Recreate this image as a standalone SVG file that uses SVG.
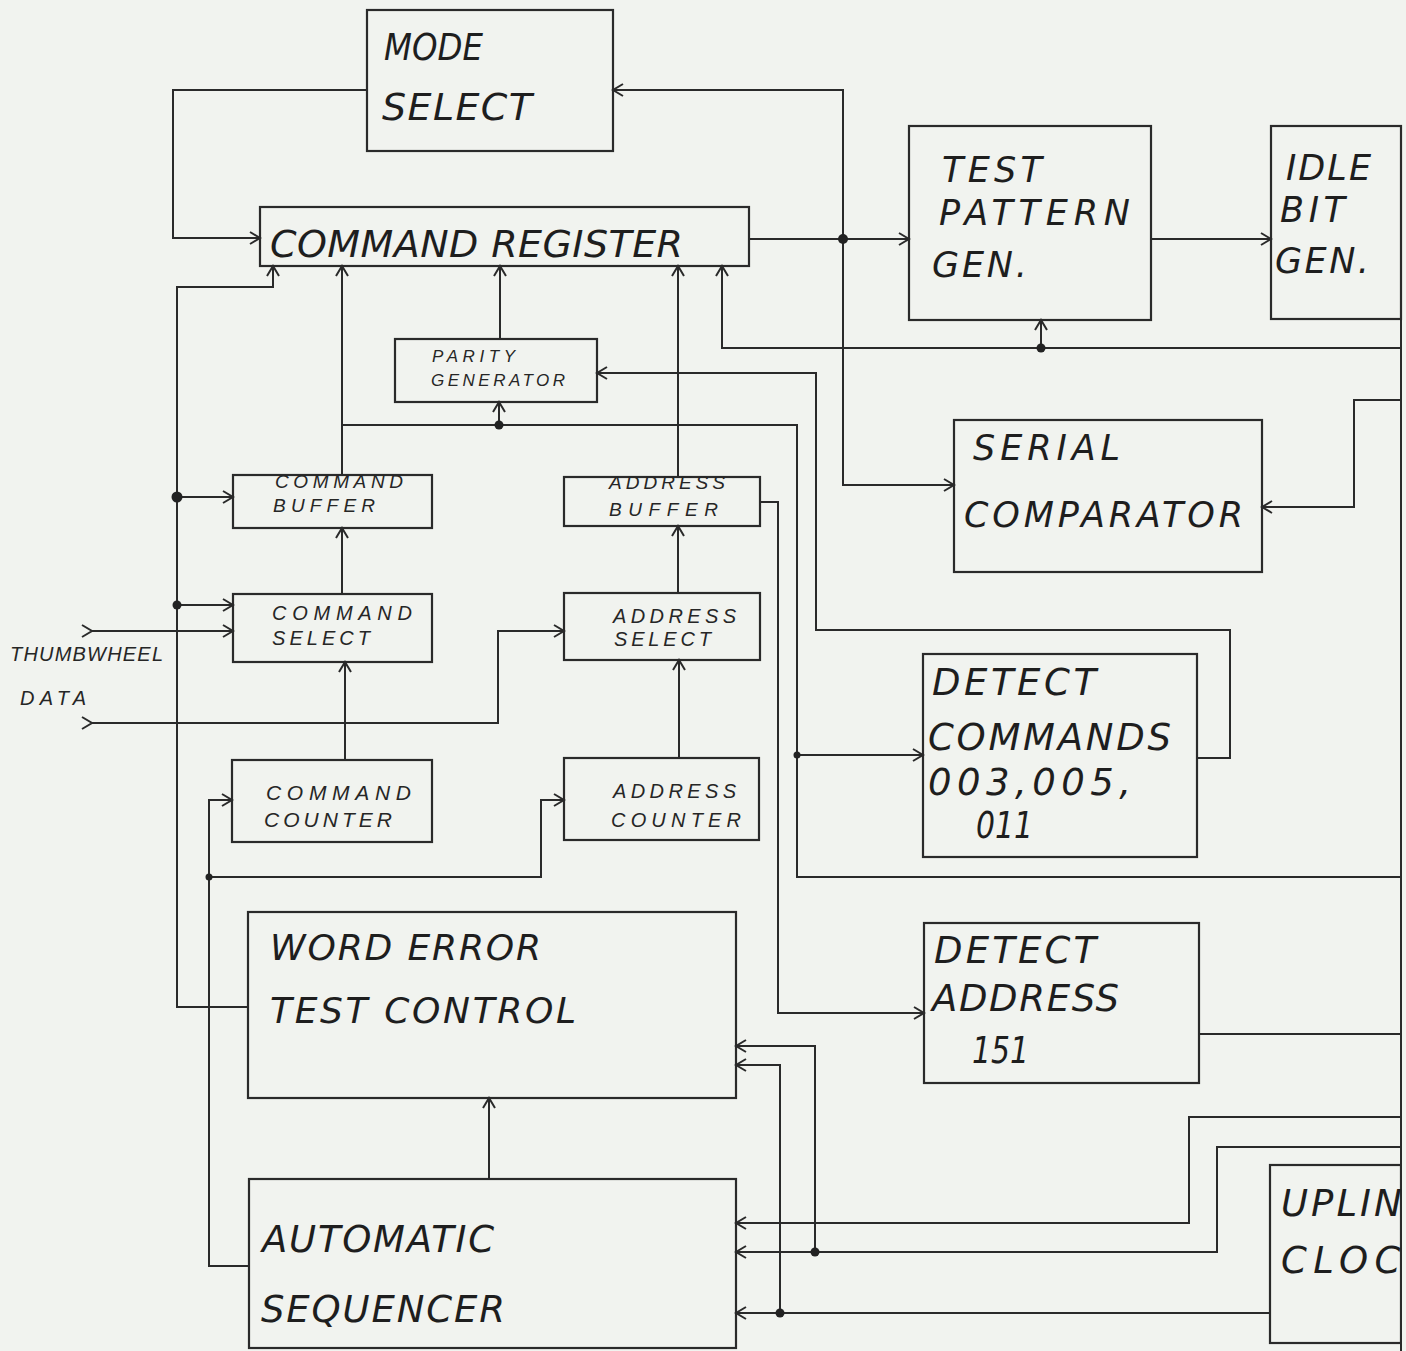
<svg xmlns="http://www.w3.org/2000/svg" width="1406" height="1351" viewBox="0 0 1406 1351">
<style>
.bg{fill:#f1f3ef}
.box{fill:none;stroke:#2a2a2a;stroke-width:2.2}
.ln{fill:none;stroke:#2a2a2a;stroke-width:2}
.dot{fill:#222}
.big{font-family:"DejaVu Sans ExtraLight","DejaVu Sans","Liberation Sans",sans-serif;font-weight:200;font-style:italic;fill:#1e1e1e}
.sm{font-family:"Liberation Sans","DejaVu Sans",sans-serif;font-style:italic;fill:#262626}
</style>
<defs>
<marker id="ar" markerUnits="userSpaceOnUse" markerWidth="16" markerHeight="16" refX="11" refY="7" orient="auto">
<path d="M1,1 L11,7 L1,13" fill="none" stroke="#2a2a2a" stroke-width="2"/>
</marker>
<clipPath id="page"><rect x="0" y="0" width="1401" height="1351"/></clipPath>
</defs>
<rect class="bg" x="0" y="0" width="1406" height="1351"/>

<g id="connectors">
<path class="ln" d="M367,90 H173 V238 H260" marker-end="url(#ar)"/>
<path class="ln" d="M749,239 H909" marker-end="url(#ar)"/>
<path class="ln" d="M843,239 V90 H613" marker-end="url(#ar)"/>
<path class="ln" d="M843,239 V485 H954" marker-end="url(#ar)"/>
<path class="ln" d="M1151,239 H1271" marker-end="url(#ar)"/>
<path class="ln" d="M1401,348 H722 V266" marker-end="url(#ar)"/>
<path class="ln" d="M1041,348 V320" marker-end="url(#ar)"/>
<path class="ln" d="M1401,400 H1354 V507 H1262" marker-end="url(#ar)"/>
<path class="ln" d="M1197,758 H1230 V630 H816 V373 H597" marker-end="url(#ar)"/>
<path class="ln" d="M342,475 V266" marker-end="url(#ar)"/>
<path class="ln" d="M342,425 H797 V877 H1401"/>
<path class="ln" d="M499,425 V402" marker-end="url(#ar)"/>
<path class="ln" d="M797,755 H923" marker-end="url(#ar)"/>
<path class="ln" d="M500,339 V266" marker-end="url(#ar)"/>
<path class="ln" d="M678,477 V266" marker-end="url(#ar)"/>
<path class="ln" d="M678,593 V526" marker-end="url(#ar)"/>
<path class="ln" d="M679,758 V660" marker-end="url(#ar)"/>
<path class="ln" d="M342,594 V528" marker-end="url(#ar)"/>
<path class="ln" d="M345,760 V662" marker-end="url(#ar)"/>
<path class="ln" d="M248,1007 H177 V287 H273 V266" marker-end="url(#ar)"/>
<path class="ln" d="M177,497 H233" marker-end="url(#ar)"/>
<path class="ln" d="M177,605 H233" marker-end="url(#ar)"/>
<path class="ln" d="M92,631 H233" marker-start="url(#ar)" marker-end="url(#ar)"/>
<path class="ln" d="M92,723 H498 V631 H564" marker-start="url(#ar)" marker-end="url(#ar)"/>
<path class="ln" d="M249,1266 H209 V800 H232" marker-end="url(#ar)"/>
<path class="ln" d="M209,877 H541 V800 H564" marker-end="url(#ar)"/>
<path class="ln" d="M760,502 H778 V1013 H924" marker-end="url(#ar)"/>
<path class="ln" d="M1199,1034 H1401"/>
<path class="ln" d="M1401,1117 H1189 V1223 H736" marker-end="url(#ar)"/>
<path class="ln" d="M1401,1147 H1217 V1252 H736" marker-end="url(#ar)"/>
<path class="ln" d="M815,1252 V1046 H736" marker-end="url(#ar)"/>
<path class="ln" d="M1270,1313 H736" marker-end="url(#ar)"/>
<path class="ln" d="M780,1313 V1065 H736" marker-end="url(#ar)"/>
<path class="ln" d="M489,1179 V1098" marker-end="url(#ar)"/>
<path class="ln" d="M1401,126 V1351" stroke-width="2.5"/>
<circle class="dot" cx="843" cy="239" r="5"/>
<circle class="dot" cx="1041" cy="348" r="4.5"/>
<circle class="dot" cx="499" cy="425" r="4.5"/>
<circle class="dot" cx="797" cy="755" r="3.5"/>
<circle class="dot" cx="177" cy="497" r="5.5"/>
<circle class="dot" cx="177" cy="605" r="4.5"/>
<circle class="dot" cx="209" cy="877" r="3.5"/>
<circle class="dot" cx="815" cy="1252" r="4.5"/>
<circle class="dot" cx="780" cy="1313" r="4.5"/>
</g>

<g id="mode-select">
<rect class="box" x="367" y="10" width="246" height="141"/>
<text class="big" x="384" y="60" font-size="38" textLength="99" lengthAdjust="spacingAndGlyphs">MODE</text>
<text class="big" x="382" y="120" font-size="38" textLength="150">SELECT</text>
</g>
<g id="command-register">
<rect class="box" x="260" y="207" width="489" height="59"/>
<text class="big" x="270" y="257" font-size="38" textLength="413">COMMAND REGISTER</text>
</g>
<g id="test-pattern-gen">
<rect class="box" x="909" y="126" width="242" height="194"/>
<text class="big" x="942" y="182" font-size="35" textLength="100">TEST</text>
<text class="big" x="939" y="225" font-size="35" textLength="191">PATTERN</text>
<text class="big" x="932" y="277" font-size="35" textLength="95">GEN.</text>
</g>
<g id="idle-bit-gen">
<rect class="box" x="1271" y="126" width="130" height="193"/>
<text class="big" x="1286" y="180" font-size="35" textLength="85">IDLE</text>
<text class="big" x="1280" y="222" font-size="35" textLength="65">BIT</text>
<text class="big" x="1275" y="273" font-size="35" textLength="94">GEN.</text>
</g>
<g id="parity-generator">
<rect class="box" x="395" y="339" width="202" height="63"/>
<text class="sm" x="432" y="362" font-size="17" textLength="83">PARITY</text>
<text class="sm" x="431" y="386" font-size="17" textLength="134">GENERATOR</text>
</g>
<g id="serial-comparator">
<rect class="box" x="954" y="420" width="308" height="152"/>
<text class="big" x="973" y="460" font-size="35" textLength="147">SERIAL</text>
<text class="big" x="964" y="527" font-size="35" textLength="279">COMPARATOR</text>
</g>
<g id="command-buffer">
<rect class="box" x="233" y="475" width="199" height="53"/>
<text class="sm" x="275" y="488" font-size="19" textLength="128">COMMAND</text>
<text class="sm" x="273" y="512" font-size="19" textLength="102">BUFFER</text>
</g>
<g id="address-buffer">
<rect class="box" x="564" y="477" width="196" height="49"/>
<text class="sm" x="609" y="489" font-size="19" textLength="116">ADDRESS</text>
<text class="sm" x="609" y="516" font-size="19" textLength="109">BUFFER</text>
</g>
<g id="command-select">
<rect class="box" x="233" y="594" width="199" height="68"/>
<text class="sm" x="272" y="620" font-size="20" textLength="140">COMMAND</text>
<text class="sm" x="272" y="645" font-size="20" textLength="98">SELECT</text>
</g>
<g id="address-select">
<rect class="box" x="564" y="593" width="196" height="67"/>
<text class="sm" x="613" y="623" font-size="20" textLength="123">ADDRESS</text>
<text class="sm" x="614" y="646" font-size="20" textLength="97">SELECT</text>
</g>
<g id="thumbwheel-data">
<text class="sm" x="10" y="661" font-size="20" textLength="153">THUMBWHEEL</text>
<text class="sm" x="20" y="705" font-size="20" textLength="66">DATA</text>
</g>
<g id="detect-commands">
<rect class="box" x="923" y="654" width="274" height="203"/>
<text class="big" x="932" y="695" font-size="37" textLength="164">DETECT</text>
<text class="big" x="928" y="750" font-size="37" textLength="243">COMMANDS</text>
<text class="big" x="928" y="795" font-size="37" textLength="203">003,005,</text>
<text class="big" x="976" y="838" font-size="37" textLength="57" lengthAdjust="spacingAndGlyphs">011</text>
</g>
<g id="command-counter">
<rect class="box" x="232" y="760" width="200" height="82"/>
<text class="sm" x="266" y="800" font-size="21" textLength="145">COMMAND</text>
<text class="sm" x="264" y="827" font-size="21" textLength="128">COUNTER</text>
</g>
<g id="address-counter">
<rect class="box" x="564" y="758" width="195" height="82"/>
<text class="sm" x="613" y="798" font-size="20" textLength="123">ADDRESS</text>
<text class="sm" x="611" y="827" font-size="20" textLength="130">COUNTER</text>
</g>
<g id="word-error-test-control">
<rect class="box" x="248" y="912" width="488" height="186"/>
<text class="big" x="270" y="960" font-size="36" textLength="271">WORD ERROR</text>
<text class="big" x="270" y="1023" font-size="36" textLength="306">TEST CONTROL</text>
</g>
<g id="detect-address">
<rect class="box" x="924" y="923" width="275" height="160"/>
<text class="big" x="934" y="963" font-size="37" textLength="162">DETECT</text>
<text class="big" x="932" y="1011" font-size="37" textLength="187">ADDRESS</text>
<text class="big" x="972" y="1063" font-size="37" textLength="57" lengthAdjust="spacingAndGlyphs">151</text>
</g>
<g id="automatic-sequencer">
<rect class="box" x="249" y="1179" width="487" height="169"/>
<text class="big" x="262" y="1252" font-size="37" textLength="232">AUTOMATIC</text>
<text class="big" x="261" y="1322" font-size="37" textLength="244">SEQUENCER</text>
</g>
<g id="uplink-clock" clip-path="url(#page)">
<rect class="box" x="1270" y="1165" width="131" height="178"/>
<text class="big" x="1281" y="1216" font-size="37" textLength="148">UPLINK</text>
<text class="big" x="1281" y="1273" font-size="37" textLength="150">CLOCK</text>
</g>
</svg>
